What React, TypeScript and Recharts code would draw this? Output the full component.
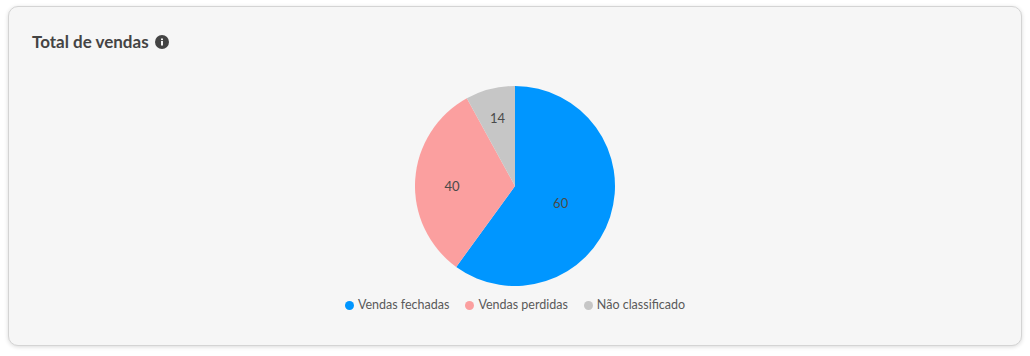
import { PieChart, Pie, Legend } from "recharts";

const categories = ["Vendas fechadas", "Vendas perdidas", "Não classificado"];
const sliceValues = [60, 32, 8];
const labelTexts = ["60", "40", "14"];
const sliceColors = ["#0096ff", "#fb9f9f", "#c6c6c6"];
const labelRadii = [48, 63, 70];
const labelShiftY = [2, 4, 0];

const data = categories.map((name, i) => ({
  name,
  value: sliceValues[i],
  fill: sliceColors[i],
}));

const FONT = "Lato, 'Open Sans', sans-serif";
const RAD = Math.PI / 180;

const renderLabel = (props: any) => {
  const { cx, cy, midAngle, index } = props;
  const r = labelRadii[index];
  const x = cx + r * Math.cos(-midAngle * RAD);
  const y = cy + r * Math.sin(-midAngle * RAD) + labelShiftY[index];
  return (
    <text x={x} y={y} fill="#4a4a4a" fontSize={13} fontFamily={FONT} textAnchor="middle" dominantBaseline="central">
      {labelTexts[index]}
    </text>
  );
};

const renderLegend = (props: any) => (
  <div style={{ display: "flex", justifyContent: "center", gap: 16, fontFamily: FONT, fontSize: 12.5, lineHeight: "16px", color: "#5a5a5a" }}>
    {props.payload.map((entry: any) => (
      <div key={entry.value} style={{ display: "flex", alignItems: "center", gap: 4 }}>
        <svg width={9} height={9} viewBox="0 0 9 9">
          <circle cx={4.5} cy={4.5} r={4.5} fill={entry.color} />
        </svg>
        {entry.value}
      </div>
    ))}
  </div>
);

export default function App() {
  return (
    <div style={{ position: "absolute", left: 0, top: 0, width: 1030, height: 356, background: "#fff", overflow: "hidden" }}>
      <div
        style={{
          position: "absolute",
          left: 8,
          top: 6,
          width: 1012,
          height: 338,
          background: "#f6f6f6",
          border: "1px solid #d4d4d4",
          borderRadius: 10,
          boxShadow: "0 1px 4px rgba(0,0,0,0.15)",
        }}
      />
      <div
        style={{
          position: "absolute",
          left: 32,
          top: 32,
          display: "flex",
          alignItems: "center",
          fontFamily: FONT,
          fontSize: 17,
          fontWeight: 700,
          lineHeight: "20px",
          color: "#444",
        }}
      >
        Total de vendas
        <svg width={14} height={14} viewBox="0 0 14 14" style={{ marginLeft: 6 }}>
          <circle cx={7} cy={7} r={7} fill="#444" />
          <rect x={6} y={6} width={2} height={4.5} fill="#f6f6f6" />
          <rect x={6} y={3.5} width={2} height={1.6} fill="#f6f6f6" />
        </svg>
      </div>
      <div style={{ position: "absolute", left: 0, top: 0 }}>
        <PieChart width={1030} height={356} margin={{ top: 0, right: 0, bottom: 0, left: 0 }}>
          <Pie
            data={data}
            dataKey="value"
            nameKey="name"
            cx={515}
            cy={186}
            outerRadius={100}
            startAngle={90}
            endAngle={-270}
            stroke="none"
            label={renderLabel}
            labelLine={false}
            isAnimationActive={false}
          />
          <Legend
            layout="horizontal"
            align="center"
            verticalAlign="bottom"
            itemSorter={null}
            content={renderLegend}
            wrapperStyle={{ bottom: 43 }}
          />
        </PieChart>
      </div>
    </div>
  );
}
